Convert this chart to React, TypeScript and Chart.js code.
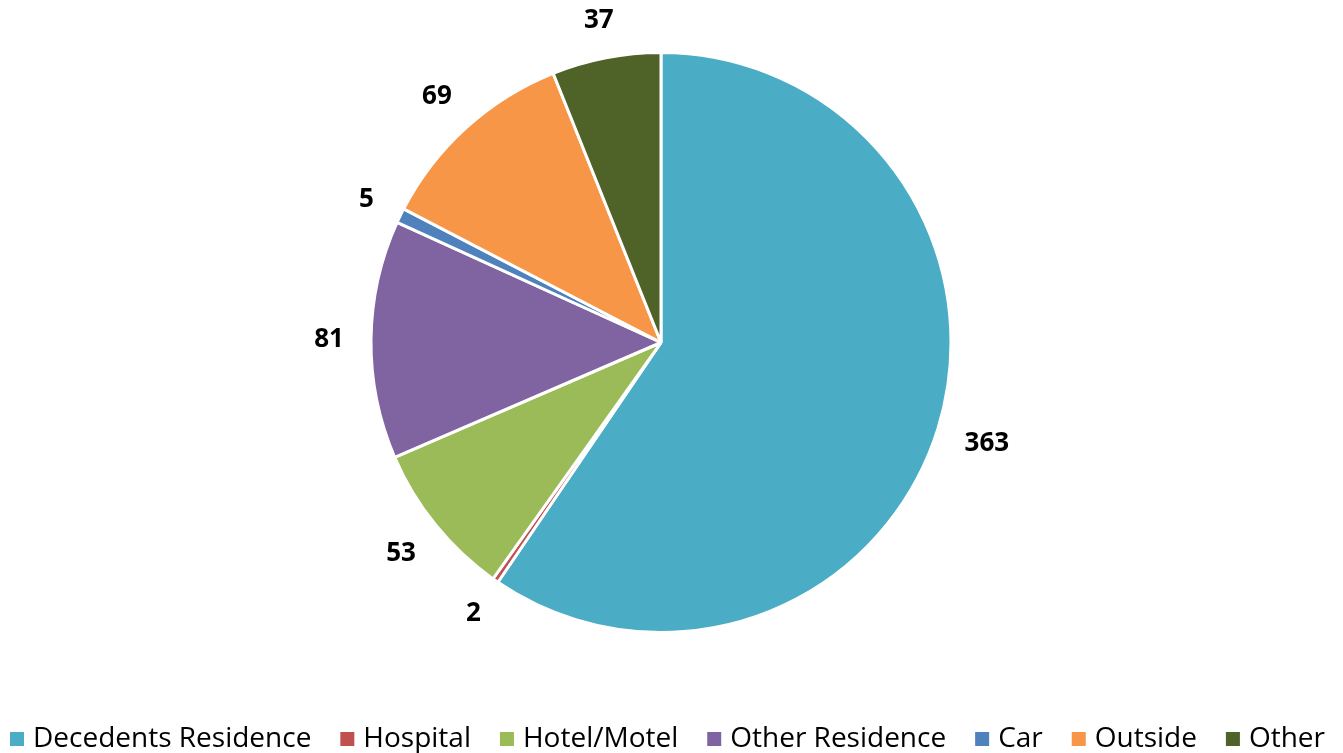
import React, { useEffect, useRef } from "react";
import { Chart, registerables } from "chart.js";

Chart.register(...registerables);

const categories = ["Decedents Residence", "Hospital", "Hotel/Motel", "Other Residence", "Car", "Outside", "Other"];
const values = [363, 2, 53, 81, 5, 69, 37];
const colors = ["#4BACC6", "#C0504D", "#9BBB59", "#8064A2", "#4F81BD", "#F79646", "#4F6228"];

const FONT = "'Open Sans', 'Liberation Sans', sans-serif";

const outsideLabels = {
  id: "outsideLabels",
  afterDatasetsDraw(chart: any) {
    const ctx = chart.ctx;
    const meta = chart.getDatasetMeta(0);
    ctx.save();
    ctx.font = `bold 26px ${FONT}`;
    ctx.fillStyle = "#000";
    ctx.textAlign = "center";
    ctx.textBaseline = "middle";
    meta.data.forEach((arc: any, i: number) => {
      const text = String(values[i]);
      const a = (arc.startAngle + arc.endAngle) / 2;
      const ux = Math.cos(a);
      const uy = Math.sin(a);
      const w = ctx.measureText(text).width;
      const h = 18;
      const d = arc.outerRadius + 27 + Math.abs(ux) * w / 2 + Math.abs(uy) * h / 2;
      ctx.fillText(text, arc.x + ux * d, arc.y + uy * d + 1);
    });
    ctx.restore();
  },
};

const bottomLegend = {
  id: "bottomLegend",
  afterDraw(chart: any) {
    const ctx = chart.ctx;
    const items = chart.legend ? chart.legend.legendItems : [];
    ctx.save();
    ctx.font = `28px ${FONT}`;
    const box = 14;
    const boxGap = 9;
    const left = 10;
    const right = 1325;
    const widths = categories.map((c) => ctx.measureText(c).width);
    const used = widths.reduce((s, w) => s + w + box + boxGap, 0);
    const gap = (right - left - used) / (categories.length - 1);
    let x = left;
    const baseline = 747;
    categories.forEach((c, i) => {
      const it = items[i];
      ctx.fillStyle = it ? it.fillStyle : colors[i];
      ctx.fillRect(x, baseline - 15, box, box);
      ctx.fillStyle = "#000";
      ctx.textBaseline = "alphabetic";
      ctx.textAlign = "left";
      ctx.fillText(c, x + box + boxGap, baseline);
      x += box + boxGap + widths[i] + gap;
    });
    ctx.restore();
  },
};

export default function App() {
  const ref = useRef<HTMLCanvasElement>(null);
  useEffect(() => {
    const chart = new Chart(ref.current!, {
      type: "pie",
      data: {
        labels: categories,
        datasets: [
          {
            data: values,
            backgroundColor: colors,
            borderColor: "#ffffff",
            borderWidth: 3,
          },
        ],
      },
      options: {
        animation: false,
        responsive: false,
        radius: 290,
        layout: { padding: { top: 0, left: 0, right: 21, bottom: 68 } },
        plugins: {
          tooltip: { enabled: false },
          legend: { display: false },
        },
      },
      plugins: [outsideLabels, bottomLegend],
    });
    return () => chart.destroy();
  }, []);
  return (
    <div style={{ position: "fixed", left: 0, top: 0, width: 1343, height: 753, background: "#fff" }}>
      <canvas ref={ref} width={1343} height={753} style={{ width: 1343, height: 753 }} />
    </div>
  );
}
